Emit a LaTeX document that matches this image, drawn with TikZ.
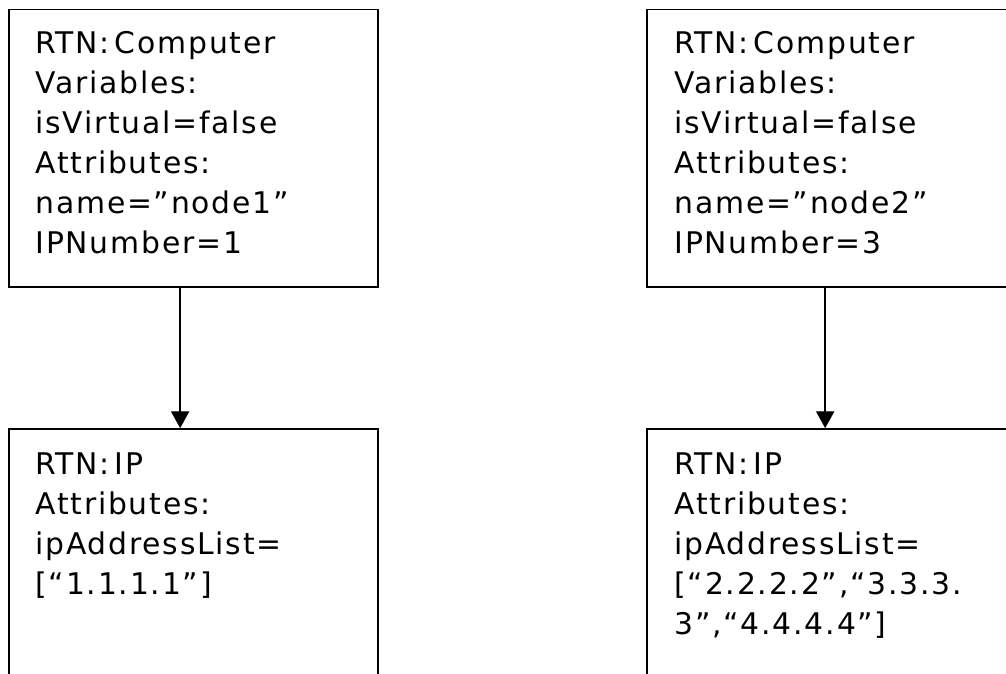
\documentclass[tikz,border=0pt]{standalone}
\usepackage{fontspec}
\setmainfont{DejaVu Sans}[LetterSpace=6]
\usepackage{tikz}
\usetikzlibrary{arrows.meta, positioning}
\tikzset{
  rtnbox/.style={rectangle, draw=black, line width=1.1pt,
    minimum width=9.225cm, minimum height=6.94cm, inner sep=0pt},
  rtntext/.style={anchor=north west, align=left, inner sep=0pt,
    font=\fontsize{21.2}{28.45}\selectfont},
  arrow/.style={-{Triangle[width=13pt, length=12pt]}, line width=1pt, color=black}
}

\begin{document}
\begin{tikzpicture}[x=0.025cm, y=0.025cm]
  \useasboundingbox (0,0) rectangle (1006,673);
  \clip (0,0) rectangle (1006,673);
  % ── node1 (left) ──────────────────────────────────────────────────────────
  \node[rtnbox] (comp1) at (193.5,524.75) {};
  \node[rtntext] (comp1text) at ([shift={(27,-22.5)}]comp1.north west)
    {RTN:\,Computer\\Variables:\\isVirtual=false\\Attributes:\\name=”node1”\\IPNumber=1};
  \node[rtnbox] (ip1) at (193.5,105.25) {};
  \node[rtntext] (ip1text) at ([shift={(27,-24)}]ip1.north west)
    {RTN:\,IP\\Attributes:\\ipAddressList=\\{[}“1.1.1.1”{]}};
  \draw[arrow] ([xshift=-9.5]comp1.south) -- ([xshift=-9.5]ip1.north);
  % ── node2 (right) ─────────────────────────────────────────────────────────
  \node[rtnbox] (comp2) at (831.5,524.75) {};
  \node[rtntext] (comp2text) at ([shift={(28,-22.5)}]comp2.north west)
    {RTN:\,Computer\\Variables:\\isVirtual=false\\Attributes:\\name=”node2”\\IPNumber=3};
  \node[rtnbox] (ip2) at (831.5,105.25) {};
  \node[rtntext] (ip2text) at ([shift={(28,-24)}]ip2.north west)
    {RTN:\,IP\\Attributes:\\ipAddressList=\\{[}“2.2.2.2”,“3.3.3.\\3”,“4.4.4.4”{]}};
  \draw[arrow] ([xshift=-4.5]comp2.south) -- ([xshift=-4.5]ip2.north);
\end{tikzpicture}
\end{document}
